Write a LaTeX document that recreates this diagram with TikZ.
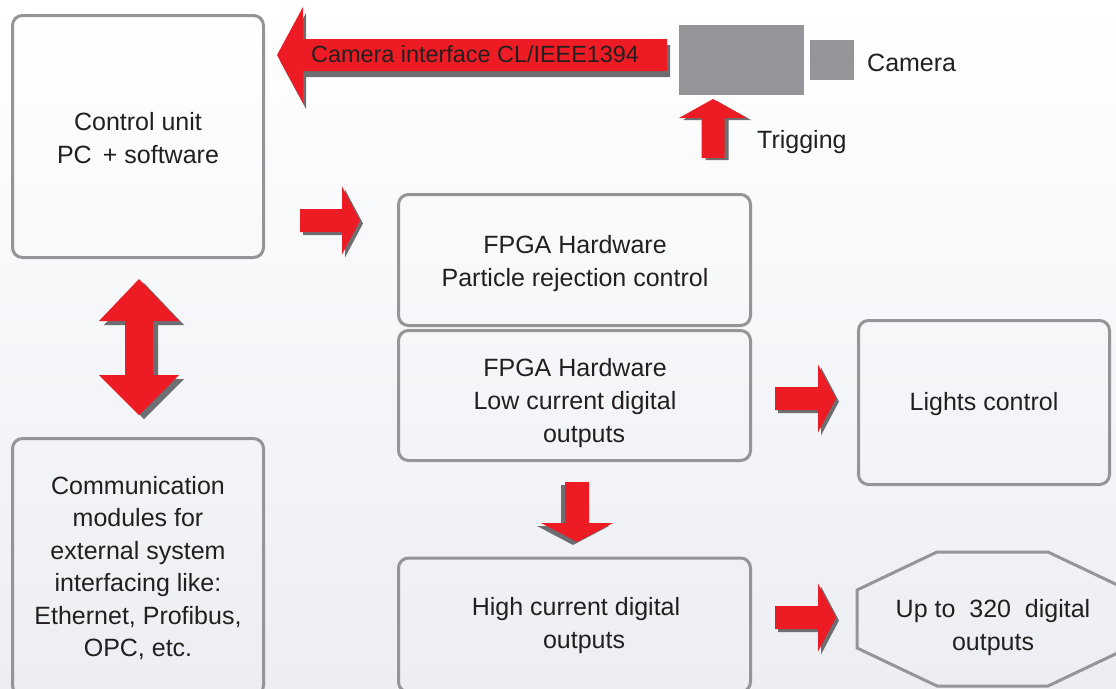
\documentclass[tikz,border=0pt]{standalone}
\usepackage{fontspec}
\setmainfont{Liberation Sans}
\usetikzlibrary{calc}
\definecolor{arrred}{HTML}{ED1C24}
\definecolor{arrshadow}{HTML}{6D6E71}
\definecolor{boxline}{HTML}{939598}
\definecolor{txt}{HTML}{231F20}
\definecolor{bgbot}{HTML}{ECEEF3}
\definecolor{camgrey}{HTML}{939598}
\begin{document}
\begin{tikzpicture}[x=1pt,y=-1pt,
  box/.style={draw=boxline, line width=3pt, rounded corners=10pt, inner sep=0pt},
  lbl/.style={text=txt, align=center, inner sep=0pt, font=\fontsize{25}{33}\selectfont},
  pics/barrow/.style n args={4}{code={\fill (0,-#2) -- ({#1-#4},-#2) -- ({#1-#4},-#3) -- (#1,0) -- ({#1-#4},#3) -- ({#1-#4},#2) -- (0,#2) -- cycle;}},
  pics/dblarrow/.style={code={\fill (0,-68) -- (40,-26) -- (14,-26) -- (14,28) -- (40,28) -- (0,68) -- (-40,28) -- (-14,28) -- (-14,-26) -- (-40,-26) -- cycle;}},
]
\useasboundingbox[top color=white, bottom color=bgbot] (0,0) rectangle (1116,688);
\clip (0,0) rectangle (1116,688);

% boxes
\node[box, minimum width=251pt, minimum height=242pt] (ctrl) at (138,136.5) {};
\node[lbl] (ctrlt) at (138,138.5) {Control unit\\PC \,+ software};

\node[box, minimum width=251pt, minimum height=257pt] (comm) at (138,567) {};
\node[lbl, font=\fontsize{25}{32.4}\selectfont] (commt) at (138,568) {Communication\\modules for\\external system\\interfacing like:\\Ethernet, Profibus,\\OPC, etc.};

\node[box, minimum width=352pt, minimum height=131pt] (fpga1) at (574.5,260) {};
\node[lbl] (fpga1t) at (575,263.5) {FPGA Hardware\\Particle rejection control};

\node[box, minimum width=352pt, minimum height=130pt] (fpga2) at (574.5,395.5) {};
\node[lbl] (fpga2t) at (575,403.5) {FPGA Hardware\\Low current digital\\\hspace*{18pt}outputs};

\node[box, minimum width=352pt, minimum height=134pt] (high) at (574.5,625) {};
\node[lbl] (hight) at (576,625.5) {High current digital\\\hspace*{16pt}outputs};

\node[box, minimum width=251pt, minimum height=164pt] (lights) at (984,402.5) {};
\node[lbl] (lightst) at (984,404) {Lights control};

\draw[boxline, line width=3pt] (937,552) coordinate (o1) -- (1048,552) -- (1128,590) -- (1128,648) -- (1048,686) -- (937,686) -- (857,648) -- (857,590) -- cycle;
\node[lbl] (oct) at (993,628) {Up to \ 320 \ digital\\outputs};

% camera
\fill[camgrey] (679,25) rectangle (804,95);
\node[fill=camgrey, minimum width=44pt, minimum height=40pt, inner sep=0pt] (cam) at (832,60) {};
\node[lbl, anchor=west] (camt) at (867,62.5) {Camera};

% big left arrow
\coordinate (camT) at (667,55);
\pic[fill=arrshadow, rotate=180] at ($(camT)+(3,6)$) {barrow={390}{16}{48}{26}};
\pic[fill=arrred, rotate=180] at (camT) {barrow={390}{16}{48}{26}};
\node[text=txt, inner sep=0pt, anchor=west, font=\fontsize{23.4}{28}\selectfont] (ifc) at (311,54.5) {Camera interface CL/IEEE1394};

% trigging arrow
\coordinate (trigT) at (713,158);
\pic[fill=arrshadow, rotate=90] at ($(trigT)+(4,2)$) {barrow={59}{11.5}{34}{19}};
\pic[fill=arrred, rotate=90] at (trigT) {barrow={59}{11.5}{34}{19}};
\node[lbl, anchor=west] (trig) at (757,142.5) {Trigging};

% control -> fpga
\coordinate (a1) at (300,220.5);
\pic[fill=arrshadow] at ($(a1)+(3,3)$) {barrow={60}{11.5}{34}{18}};
\pic[fill=arrred] at (a1) {barrow={60}{11.5}{34}{18}};

% fpga2 -> lights
\coordinate (a2) at (775,398.5);
\pic[fill=arrshadow] at ($(a2)+(3,3)$) {barrow={61}{11.5}{34}{18}};
\pic[fill=arrred] at (a2) {barrow={61}{11.5}{34}{18}};

% high -> octagon
\coordinate (a3) at (775,617.5);
\pic[fill=arrshadow] at ($(a3)+(3,3)$) {barrow={61}{11.5}{34}{18}};
\pic[fill=arrred] at (a3) {barrow={61}{11.5}{34}{18}};

% fpga2 -> high
\coordinate (a4) at (577,482);
\pic[fill=arrshadow, rotate=-90] at ($(a4)+(-4,3)$) {barrow={60}{12}{36}{19}};
\pic[fill=arrred, rotate=-90] at (a4) {barrow={60}{12}{36}{19}};

% double arrow
\coordinate (dbl) at (139,347);
\pic[fill=arrshadow] at ($(dbl)+(5,4)$) {dblarrow};
\pic[fill=arrred] at (dbl) {dblarrow};
\end{tikzpicture}
\end{document}
